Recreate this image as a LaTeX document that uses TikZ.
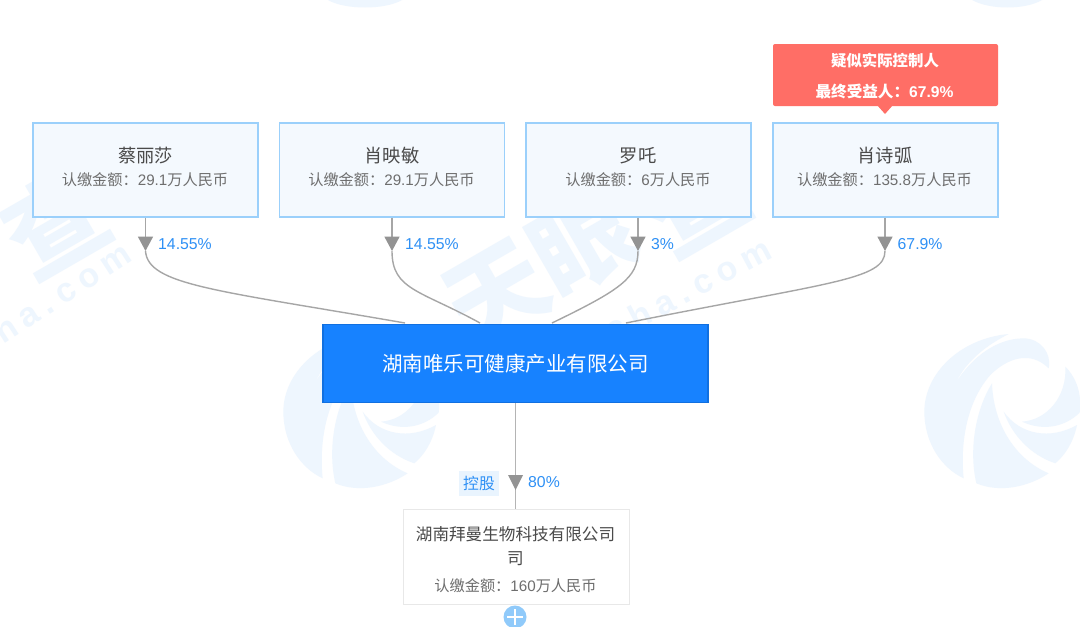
\documentclass[tikz,border=0pt]{standalone}
\usepackage{fontspec}
\setmainfont{Liberation Sans}
\newfontfamily\cjk{Noto Sans CJK SC}
\usetikzlibrary{arrows.meta}
\definecolor{wm}{HTML}{EEF6FE}
\definecolor{pale}{HTML}{F4F9FE}
\definecolor{edgeb}{HTML}{9BD0FB}
\definecolor{mainb}{HTML}{1782FF}
\definecolor{mainl}{HTML}{1170E0}
\definecolor{redb}{HTML}{FF6E66}
\definecolor{inkd}{HTML}{4A4A4A}
\definecolor{inkg}{HTML}{6E6E6E}
\definecolor{blue2}{HTML}{2E90F5}
\definecolor{linec}{HTML}{A6A6A6}
\definecolor{linel}{HTML}{B4B4B4}
\definecolor{tipc}{HTML}{939393}
\definecolor{tagb}{HTML}{E9F4FE}
\newcommand{\cn}[1]{{\cjk #1}}
\newcommand{\amt}[1]{\cn{认缴金额：}#1\cn{万人民币}}
\tikzset{
  x=1pt,y=-1pt,
  holder/.style={draw=edgeb,line width=1.5pt,fill=pale,minimum width=225pt,minimum height=94pt,inner sep=0,anchor=north west},
  hname/.style={font=\cjk\fontsize{18.3}{20}\selectfont,text=inkd,inner sep=0},
  hamt/.style={font=\fontsize{15.2}{17}\selectfont,text=inkg,inner sep=0},
  pct/.style={font=\fontsize{15.8}{17}\selectfont,text=blue2,anchor=west,inner sep=0},
  stem/.style={draw=linec,line width=1.7pt,-{Triangle[length=14.5pt,width=15pt,color=tipc]}},
  curve/.style={draw=linec,line width=1.4pt},
  wmtext/.style={text=wm,font=\bfseries\fontsize{34}{36}\selectfont\addfontfeature{LetterSpace=22},inner sep=0},
  wmcjk/.style={text=wm,font=\cjk\bfseries\fontsize{100}{104}\selectfont,inner sep=0},
  logo/.pic={
    \begin{scope}[scale=0.3333,shift={(-305,-270)}]
    \fill[wm] (325,42) .. controls (180,55) and (72,160) .. (72,275) .. controls (72,370) and (125,445) .. (190,475)
       .. controls (180,380) and (195,250) .. (270,165) .. controls (320,115) and (390,90) .. (445,145)
       .. controls (455,100) and (420,55) .. (370,55) .. controls (290,55) and (215,110) .. (165,190)
       .. controls (200,120) and (260,75) .. cycle;
    \fill[wm] (275,190) .. controls (225,270) and (205,390) .. (228,490) .. controls (300,520) and (385,500) .. (445,460)
       .. controls (350,420) and (280,320) .. cycle;
    \fill[wm] (495,140) .. controls (500,230) and (440,300) .. (365,305) .. controls (430,335) and (495,320) .. (538,278)
       .. controls (545,225) and (530,175) .. cycle;
    \fill[wm] (310,275) .. controls (360,345) and (450,360) .. (530,315) .. controls (520,365) and (495,405) .. (465,430)
       .. controls (390,405) and (335,345) .. cycle;
    \end{scope}
  }
}
\begin{document}
\begin{tikzpicture}
\useasboundingbox (0,0) rectangle (1080,627);
\fill[white] (0,0) rectangle (1080,627);
% watermark
\pic at (361,410) {logo};
\pic at (1002,410) {logo};
\fill[wm] (328,0) .. controls (345,10) and (385,10) .. (402,0) -- cycle;
\fill[wm] (972,0) .. controls (990,10) and (1025,10) .. (1042,0) -- cycle;
\node[wmcjk,rotate=30] (w1) at (55,222) {查};
\node[wmcjk,rotate=30] (w2) at (540,268) {天眼};
\node[wmcjk,rotate=30] (w3) at (695,200) {查};
\node[wmtext,rotate=33] (w4) at (62,292) {ha.com};
\node[wmtext,rotate=28] (w5) at (688,289) {cha.com};
% holders
\node[holder] (h1) at (32,122) {};
\node[holder] (h2) at (278.5,122) {};
\node[holder] (h3) at (525,122) {};
\node[holder] (h4) at (772,122) {};
\node[hname] (n1) at (145.5,156) {蔡丽莎};
\node[hname] (n2) at (392,156) {肖映敏};
\node[hname] (n3) at (638,156) {罗吒};
\node[hname] (n4) at (885,156) {肖诗弧};
\node[hamt] (m1) at (145,180) {\amt{29.1}};
\node[hamt] (m2) at (391.5,180) {\amt{29.1}};
\node[hamt] (m3) at (638,180) {\amt{6}};
\node[hamt] (m4) at (884.5,180) {\amt{135.8}};
% controller callout
\fill[redb,rounded corners=2pt] (773,44) rectangle (998,106);
\fill[redb] (877,105) -- (885,114) -- (893,105) -- cycle;
\node[text=white,inner sep=0,font=\cjk\bfseries\fontsize{15.4}{17}\selectfont] (c1) at (885,60.5) {疑似实际控制人};
\node[text=white,inner sep=0,font=\bfseries\fontsize{15.6}{17}\selectfont] (c2) at (884.5,91.5) {\cn{最终受益人：}67.9\%};
% main company
\node[draw=mainl,line width=1.7pt,fill=mainb,minimum width=385pt,minimum height=78pt,inner sep=0,anchor=north west,text=white,font=\cjk\fontsize{20.5}{23}\selectfont] (main) at (322,323.5) {湖南唯乐可健康产业有限公司};
% subsidiary
\node[draw=black!9,line width=1.7pt,fill=white,minimum width=226pt,minimum height=95pt,inner sep=0,anchor=north west] (sub) at (402.5,508.5) {};
\node[hname,font=\cjk\fontsize{16.6}{19}\selectfont] (s1) at (515.5,534) {湖南拜曼生物科技有限公司};
\node[hname,font=\cjk\fontsize{16.6}{19}\selectfont] (s2) at (515.5,559) {司};
\node[hamt] (s3) at (515.5,586) {\amt{160}};
% connectors
\coordinate (a1) at (145.5,251);
\coordinate (a2) at (392,251);
\coordinate (a3) at (638,251);
\coordinate (a4) at (885,251);
\coordinate (a5) at (515.5,490);
\coordinate (b5) at (515.5,475);
\coordinate (e1) at (405,323);
\coordinate (e2) at (480,323);
\coordinate (e3) at (552,323);
\coordinate (e4) at (626,323);
\draw[curve] (a1) .. controls (148,285) and (215,290) .. (e1);
\draw[curve] (a2) .. controls (392,290) and (420,290) .. (e2);
\draw[curve] (a3) .. controls (638,278) and (620,290) .. (e3);
\draw[curve] (a4) .. controls (885,280) and (830,282) .. (e4);
\draw[stem] (a1 |- h1.south) -- (a1);
\draw[stem] (a2 |- h2.south) -- (a2);
\draw[stem] (a3 |- h3.south) -- (a3);
\draw[stem] (a4 |- h4.south) -- (a4);
\draw[draw=linel,line width=1.9pt] (a5 |- main.south) -- (a5 |- sub.north);
\fill[tipc] (508,475) -- (523,475) -- (a5) -- cycle;
\node[pct] (p1) at (158,244) {14.55\%};
\node[pct] (p2) at (405,244) {14.55\%};
\node[pct] (p3) at (651,244) {3\%};
\node[pct] (p4) at (897.5,244) {67.9\%};
\node[pct] (p5) at (528,482) {80\%};
\node[fill=tagb,text=blue2,inner sep=0,minimum width=40pt,minimum height=25pt,font=\cjk\fontsize{15.8}{17}\selectfont] (tag) at (479,483.5) {控股};
% expand button
\fill[edgeb!90!blue2] (515,617) circle[radius=11.5pt];
\draw[white,line width=2.6pt] (507,617) -- (523,617) (515,609) -- (515,625);
\end{tikzpicture}
\end{document}
